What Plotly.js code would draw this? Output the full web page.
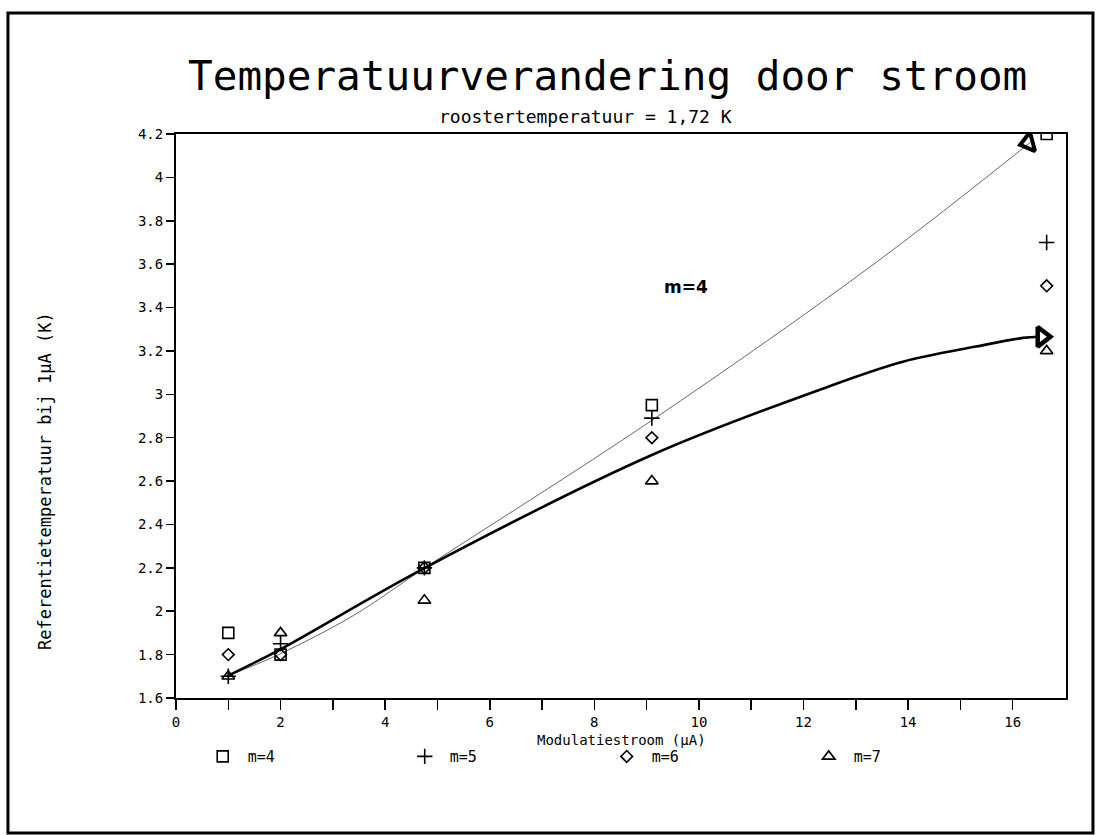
<!DOCTYPE html>
<html>
<head>
<meta charset="utf-8">
<script src="https://cdn.plot.ly/plotly-3.0.1.min.js"></script>
<style>html,body{margin:0;padding:0;background:#fff;}#chart{width:1096px;height:835px;}</style>
</head>
<body>
<div id="chart"></div>
<script>
// ---- data ----
const modulatiestroom = [1, 2, 4.75, 9.1, 16.65];          // µA
const m4 = [1.9, 1.8, 2.2, 2.95, 4.2];
const m5 = [1.7, 1.85, 2.2, 2.89, 3.7];
const m6 = [1.8, 1.8, 2.2, 2.8, 3.5];
const m7 = [1.7, 1.9, 2.05, 2.6, 3.2];
const seriesNames = ["m=4", "m=5", "m=6", "m=7"];

// hand-drawn curves
const thinX = [0.97, 1.96, 3.39, 4.76, 9.1, 13.4, 16.33];
const thinY = [1.70, 1.80, 1.98, 2.20, 2.88, 3.61, 4.16];
const thickX = [0.97, 1.96, 4.76, 9.1, 12.3, 13.9, 15.3, 16.2, 16.5];
const thickY = [1.70, 1.82, 2.20, 2.72, 3.02, 3.15, 3.22, 3.26, 3.265];
const arrowX = [16.3, 16.56];
const arrowY = [4.16, 3.265];

const xTickVals = [0,1,2,3,4,5,6,7,8,9,10,11,12,13,14,15,16];
const xTickText = ["0","","2","","4","","6","","8","","10","","12","","14","","16"];
const yTickVals = [1.6,1.8,2.0,2.2,2.4,2.6,2.8,3.0,3.2,3.4,3.6,3.8,4.0,4.2];
const yTickText = ["1.6","1.8","2","2.2","2.4","2.6","2.8","3","3.2","3.4","3.6","3.8","4","4.2"];

const FONT = "DejaVu Sans Mono, monospace";
const symbols = ["square-open", "cross-thin-open", "diamond-open", "triangle-up-open"];
const sizes = [11, 11, 9, 11];
const values = [m4, m5, m6, m7];

const traces = [
  {x: thinX, y: thinY, mode: "lines", line: {color: "#666", width: 1, shape: "spline", smoothing: 1}, showlegend: false, hoverinfo: "skip"},
  {x: thickX, y: thickY, mode: "lines", line: {color: "#000", width: 2.6, shape: "spline", smoothing: 1}, showlegend: false, hoverinfo: "skip"},
  {x: [arrowX[0]], y: [arrowY[0]], mode: "markers", showlegend: false, hoverinfo: "skip",
   marker: {symbol: "triangle-left-open", size: 17, angle: -15, color: "#000", line: {color: "#000", width: 4}}},
  {x: [arrowX[1]], y: [arrowY[1]], mode: "markers", showlegend: false, hoverinfo: "skip",
   marker: {symbol: "triangle-right-open", size: 17, color: "#000", line: {color: "#000", width: 4.5}}}
];
values.forEach((v, i) => {
  traces.push({
    x: modulatiestroom, y: v, name: seriesNames[i], mode: "markers",
    marker: {symbol: symbols[i], size: sizes[i], color: "#000", line: {color: "#000", width: 1.6}}
  });
});

const layout = {
  width: 1096, height: 835,
  margin: {l: 176, r: 30, t: 134, b: 137},
  paper_bgcolor: "#fff", plot_bgcolor: "#fff",
  font: {family: FONT, color: "#000", size: 14},
  title: {text: "Temperatuurverandering door stroom", font: {family: FONT, size: 41, color: "#000"},
          x: 0.485, xref: "paper", xanchor: "center", y: 0.91, yref: "container", yanchor: "middle"},
  xaxis: {
    range: [0, 17.02], tickmode: "array", tickvals: xTickVals, ticktext: xTickText,
    ticks: "outside", ticklen: 10, tickwidth: 1.5, tickcolor: "#000",
    showline: true, linewidth: 2, linecolor: "#000", mirror: true,
    showgrid: false, zeroline: false, tickfont: {size: 14, family: FONT}
  },
  yaxis: {
    range: [1.6, 4.2], tickmode: "array", tickvals: yTickVals, ticktext: yTickText,
    ticks: "outside", ticklen: 8, tickwidth: 1.5, tickcolor: "#000",
    showline: true, linewidth: 2, linecolor: "#000", mirror: true,
    showgrid: false, zeroline: false, tickfont: {size: 14, family: FONT}
  },
  showlegend: true,
  legend: {orientation: "h", x: 0.0244, xanchor: "left", y: -0.104, yanchor: "middle",
           entrywidth: 147, entrywidthmode: "pixels", font: {size: 15, family: FONT},
           itemwidth: 40, bgcolor: "rgba(0,0,0,0)", itemclick: false},
  annotations: [
    {text: "roostertemperatuur = 1,72 K", xref: "paper", yref: "paper", x: 0.46, y: (698-116)/564,
     showarrow: false, font: {size: 18, family: FONT}, xanchor: "center", yanchor: "middle"},
    {text: "Modulatiestroom (µA)", xref: "paper", yref: "paper", x: 0.5, y: (698-740)/564,
     showarrow: false, font: {size: 14, family: FONT}, xanchor: "center", yanchor: "middle"},
    {text: "Referentietemperatuur bij 1µA (K)", xref: "paper", yref: "paper", x: -0.147, y: 0.385,
     textangle: -90, showarrow: false, font: {size: 17, family: FONT}, xanchor: "center", yanchor: "middle"},
    {text: "<b>m=4</b>", xref: "x", yref: "y", x: 9.75, y: 3.495, showarrow: false,
     font: {size: 17, family: "DejaVu Sans, sans-serif"}, xanchor: "center", yanchor: "middle"}
  ],
  shapes: [
    {type: "rect", xref: "paper", yref: "paper", x0: -0.1888, x1: 1.0303, y0: -0.2394, y1: 1.2145,
     line: {color: "#000", width: 3}, fillcolor: "rgba(0,0,0,0)", layer: "below"}
  ]
};

Plotly.newPlot("chart", traces, layout, {displayModeBar: false, staticPlot: true});
</script>
</body>
</html>
